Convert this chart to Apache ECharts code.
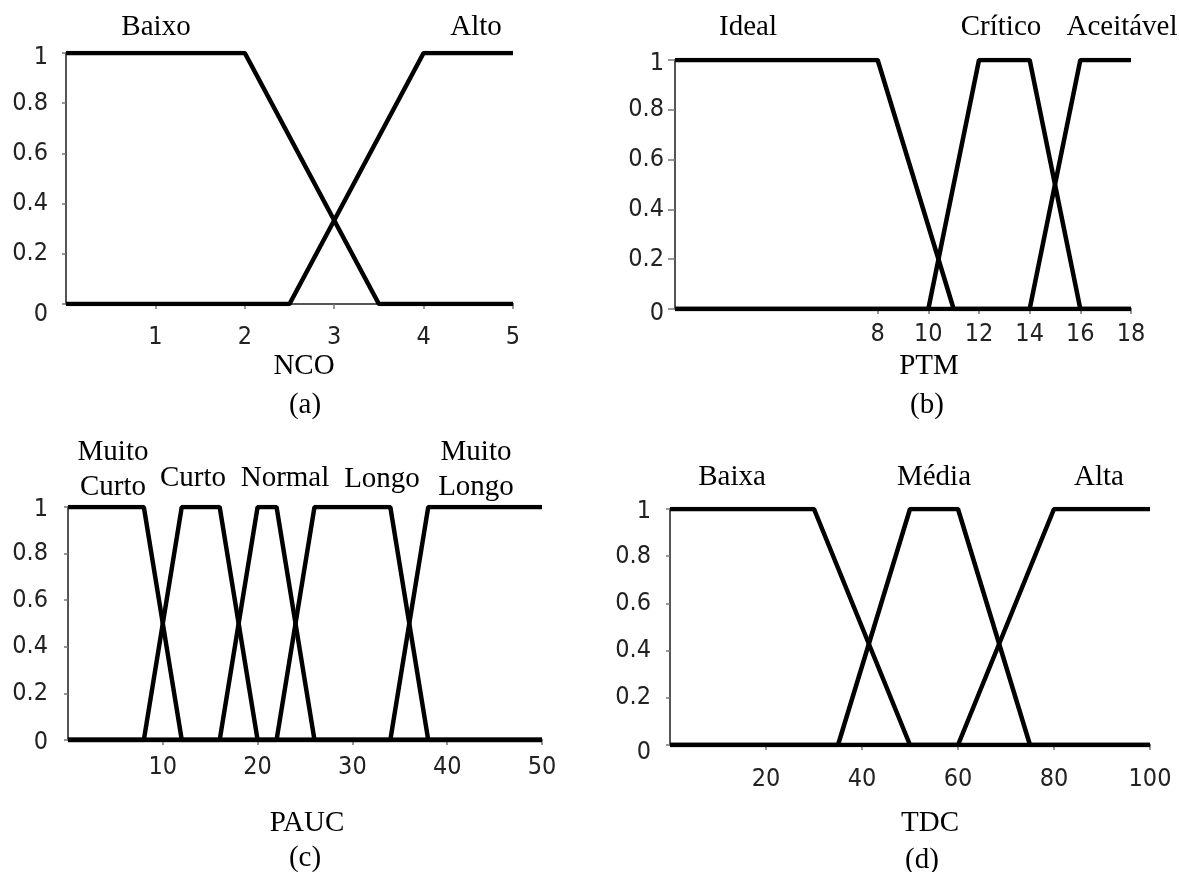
<!DOCTYPE html>
<html>
<head>
<meta charset="utf-8">
<script src="https://cdn.jsdelivr.net/npm/echarts@6/dist/echarts.min.js"></script>
<style>
html,body{margin:0;padding:0;background:#fff;}
#c{width:1179px;height:872px;}
</style>
</head>
<body>
<div id="c"></div>
<script>
// ---- data (x, membership) ----
const ncoBaixo = [[0,1],[2,1],[3.5,0],[5,0]];
const ncoAlto = [[0,0],[2.5,0],[4,1],[5,1]];
const ptmIdeal = [[0,1],[8,1],[11,0],[18,0]];
const ptmCritico = [[0,0],[10,0],[12,1],[14,1],[16,0],[18,0]];
const ptmAceitavel = [[0,0],[14,0],[16,1],[18,1]];
const paucMuitoCurto = [[0,1],[8,1],[12,0],[50,0]];
const paucCurto = [[0,0],[8,0],[12,1],[16,1],[20,0],[50,0]];
const paucNormal = [[0,0],[16,0],[20,1],[22,1],[26,0],[50,0]];
const paucLongo = [[0,0],[22,0],[26,1],[34,1],[38,0],[50,0]];
const paucMuitoLongo = [[0,0],[34,0],[38,1],[50,1]];
const tdcBaixa = [[0,1],[30,1],[50,0],[100,0]];
const tdcMedia = [[0,0],[35,0],[50,1],[60,1],[75,0],[100,0]];
const tdcAlta = [[0,0],[60,0],[80,1],[100,1]];

// ---- tick labels ----
const ncoTicks = [1,2,3,4,5];
const ptmTicks = [8,10,12,14,16,18];
const paucTicks = [10,20,30,40,50];
const tdcTicks = [20,40,60,80,100];
const yTicks = [0,0.2,0.4,0.6,0.8,1];

// ---- text labels ----
const ncoSets = ['Baixo','Alto'];
const ptmSets = ['Ideal','Crítico','Aceitável'];
const paucSets = ['Muito\nCurto','Curto','Normal','Longo','Muito\nLongo'];
const tdcSets = ['Baixa','Média','Alta'];
const varNames = ['NCO','PTM','PAUC','TDC'];
const panelTags = ['(a)','(b)','(c)','(d)'];

const tickFont = "'Liberation Sans Narrow','DejaVu Sans Condensed','Arial Narrow',sans-serif";
const serif = "'Liberation Serif','Times New Roman',serif";

const grids = [
  {left:66, top:53, width:447, height:251},
  {left:675, top:60, width:456, height:249},
  {left:68, top:507, width:474, height:233},
  {left:670, top:509, width:480, height:236}
];
const xMax = [5,18,50,100];
const xTickSets = [ncoTicks, ptmTicks, paucTicks, tdcTicks];
const xLabelMargin = [21,13,15,22];
const yLabelMargin = [18,11,20,19];
const yTickLen = [4,7,4,4];
const zeroShift = [10,4,2,7];
const oneShift = [4,3,2,2];

const xAxes = grids.map((g,i)=>({
  type:'value', gridIndex:i, min:0, max:xMax[i],
  axisLine:{show:true, onZero:false, lineStyle:{color:'#555', width:2}},
  axisTick:{show:true, length:5, customValues:xTickSets[i], lineStyle:{color:'#777', width:1.5}},
  axisLabel:{customValues:xTickSets[i], margin:xLabelMargin[i], fontFamily:tickFont, fontSize:25, color:'#222'},
  splitLine:{show:false}
}));
const yAxes = grids.map((g,i)=>({
  type:'value', gridIndex:i, min:0, max:1,
  axisLine:{show:true, lineStyle:{color:'#555', width:2}},
  axisTick:{show:true, length:yTickLen[i], customValues:yTicks, lineStyle:{color:'#777', width:1.5}},
  axisLabel:{customValues:yTicks, margin:yLabelMargin[i], fontFamily:tickFont, fontSize:25, color:'#222',
    formatter:function(v){ if(v===0) return '{z|0}'; if(v===1) return '{o|1}'; return String(v); },
    rich:{
      z:{fontFamily:tickFont, fontSize:25, color:'#222', padding:[zeroShift[i]*2,0,0,0]},
      o:{fontFamily:tickFont, fontSize:25, color:'#222', padding:[oneShift[i]*2,0,0,0]}
    }},
  splitLine:{show:false}
}));

const seriesData = [
  [ncoBaixo, ncoAlto],
  [ptmIdeal, ptmCritico, ptmAceitavel],
  [paucMuitoCurto, paucCurto, paucNormal, paucLongo, paucMuitoLongo],
  [tdcBaixa, tdcMedia, tdcAlta]
];
const series = [];
seriesData.forEach((arr,i)=>arr.forEach(d=>series.push({
  type:'line', xAxisIndex:i, yAxisIndex:i, data:d, symbol:'none',
  lineStyle:{color:'#000', width:4.5}, silent:true, z:3
})));

function txt(text, x, y, size, lh){
  return {type:'text', style:{text:text, x:x, y:y, font:size+'px '+serif,
    textAlign:'center', textVerticalAlign:'middle', fill:'#000', lineHeight:lh||size}};
}
const graphics = [];
const ncoPos = [[156,27],[476,27]];
ncoSets.forEach((t,k)=>graphics.push(txt(t,ncoPos[k][0],ncoPos[k][1],29)));
const ptmPos = [[748,27],[1001,27],[1122,27]];
ptmSets.forEach((t,k)=>graphics.push(txt(t,ptmPos[k][0],ptmPos[k][1],29)));
const paucPos = [[113,470],[193,478],[285,478],[382,479],[476,470]];
paucSets.forEach((t,k)=>graphics.push(txt(t,paucPos[k][0],paucPos[k][1],29,35)));
const tdcPos = [[732,477],[934,477],[1099,477]];
tdcSets.forEach((t,k)=>graphics.push(txt(t,tdcPos[k][0],tdcPos[k][1],29)));
const namePos = [[304,366],[929,366],[307,823],[930,823]];
const tagPos = [[305,405],[927,405],[305,858],[922,860]];
varNames.forEach((t,k)=>graphics.push(txt(t,namePos[k][0],namePos[k][1],29)));
panelTags.forEach((t,k)=>graphics.push(txt(t,tagPos[k][0],tagPos[k][1],29)));

const chart = echarts.init(document.getElementById('c'), null, {renderer:'canvas'});
chart.setOption({
  animation:false,
  backgroundColor:'#fff',
  grid:grids,
  xAxis:xAxes,
  yAxis:yAxes,
  series:series,
  graphic:graphics
});
</script>
</body>
</html>
